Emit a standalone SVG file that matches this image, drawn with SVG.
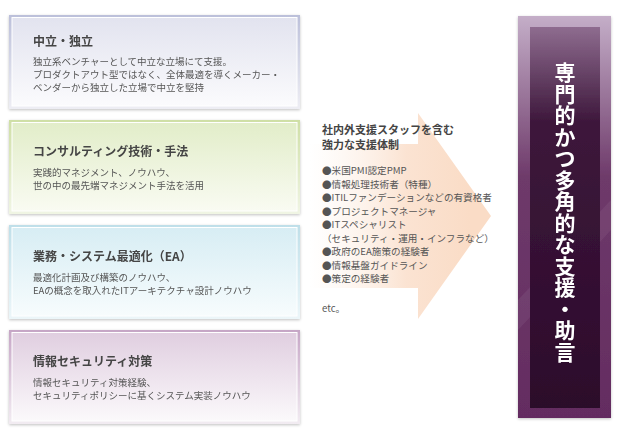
<svg xmlns="http://www.w3.org/2000/svg" width="620" height="434" viewBox="0 0 620 434">
<defs>
<linearGradient id="b1o" x1="0" y1="0" x2="0" y2="1"><stop offset="0" stop-color="#bcc0da"/><stop offset="1" stop-color="#eeeef4"/></linearGradient>
<linearGradient id="b1i" x1="0" y1="0" x2="0" y2="1"><stop offset="0" stop-color="#e2e3ef"/><stop offset="1" stop-color="#fbfbfd"/></linearGradient>
<linearGradient id="b2o" x1="0" y1="0" x2="0" y2="1"><stop offset="0" stop-color="#cfdfa6"/><stop offset="1" stop-color="#f0f5e4"/></linearGradient>
<linearGradient id="b2i" x1="0" y1="0" x2="0" y2="1"><stop offset="0" stop-color="#e2edc9"/><stop offset="1" stop-color="#f9fbf2"/></linearGradient>
<linearGradient id="b3o" x1="0" y1="0" x2="0" y2="1"><stop offset="0" stop-color="#bfdfe9"/><stop offset="1" stop-color="#ecf6f9"/></linearGradient>
<linearGradient id="b3i" x1="0" y1="0" x2="0" y2="1"><stop offset="0" stop-color="#d7edf4"/><stop offset="1" stop-color="#f7fcfd"/></linearGradient>
<linearGradient id="b4o" x1="0" y1="0" x2="0" y2="1"><stop offset="0" stop-color="#c6a6c6"/><stop offset="1" stop-color="#f2ecf2"/></linearGradient>
<linearGradient id="b4i" x1="0" y1="0" x2="0" y2="1"><stop offset="0" stop-color="#e0cee0"/><stop offset="1" stop-color="#fbf9fb"/></linearGradient>
<linearGradient id="arr" x1="310" y1="0" x2="470" y2="0" gradientUnits="userSpaceOnUse"><stop offset="0" stop-color="#fdf0e6" stop-opacity="0"/><stop offset="0.6" stop-color="#fbe3d2"/><stop offset="1" stop-color="#fadcc6"/></linearGradient>
<linearGradient id="po" x1="0" y1="0" x2="0" y2="1"><stop offset="0" stop-color="#c4aec8"/><stop offset="0.4" stop-color="#6e3a6a"/><stop offset="1" stop-color="#642c61"/></linearGradient>
<linearGradient id="pi" x1="0" y1="0" x2="0" y2="1"><stop offset="0" stop-color="#8e6c8f"/><stop offset="0.25" stop-color="#3d173b"/><stop offset="1" stop-color="#2c0a2b"/></linearGradient>
<filter id="sh" x="-10%" y="-10%" width="120%" height="120%"><feGaussianBlur in="SourceAlpha" stdDeviation="1.5"/><feOffset dy="1"/><feComponentTransfer><feFuncA type="linear" slope="0.25"/></feComponentTransfer><feMerge><feMergeNode/><feMergeNode in="SourceGraphic"/></feMerge></filter>
</defs>
<style>
.t{font-family:"Noto Sans CJK JP","Noto Sans",sans-serif;font-size:12px;font-weight:bold;fill:#444}
.b{font-family:"Noto Sans CJK JP","Noto Sans",sans-serif;font-size:9.5px;fill:#555}
.h{font-family:"Noto Sans CJK JP","Noto Sans",sans-serif;font-size:11px;font-weight:bold;fill:#444}
.l{font-family:"Noto Sans CJK JP","Noto Sans",sans-serif;font-size:9.6px;fill:#555}
.v{font-family:"Noto Sans CJK JP","Noto Sans",sans-serif;font-size:21px;font-weight:bold;fill:#fff;text-anchor:middle}
.in{stroke:#fff;stroke-width:1}
</style>
<g id="connectors">
<path id="arrow" d="M310,144 H418 V113 L491,216 L418,319 V288 H310 Z" fill="url(#arr)"/>
</g>
<g id="box1" filter="url(#sh)">
<rect x="9" y="15" width="291" height="94" fill="url(#b1o)"/>
<rect x="12" y="17.5" width="285" height="88.5" fill="url(#b1i)" class="in"/>
<text class="t" x="33" y="46">中立・独立</text>
<text class="b" x="33" y="65">独立系ベンチャーとして中立な立場にて支援。</text>
<text class="b" x="33" y="78">プロダクトアウト型ではなく、全体最適を導くメーカー・</text>
<text class="b" x="33" y="91">ベンダーから独立した立場で中立を堅持</text>
</g>
<g id="box2" filter="url(#sh)">
<rect x="9" y="120" width="291" height="94" fill="url(#b2o)"/>
<rect x="12" y="122.5" width="285" height="88.5" fill="url(#b2i)" class="in"/>
<text class="t" x="33" y="156">コンサルティング技術・手法</text>
<text class="b" x="33" y="176">実践的マネジメント、ノウハウ、</text>
<text class="b" x="33" y="189">世の中の最先端マネジメント手法を活用</text>
</g>
<g id="box3" filter="url(#sh)">
<rect x="9" y="225" width="291" height="94" fill="url(#b3o)"/>
<rect x="12" y="227.5" width="285" height="88.5" fill="url(#b3i)" class="in"/>
<text class="t" x="33" y="261">業務・システム最適化（EA）</text>
<text class="b" x="33" y="281">最適化計画及び構築のノウハウ、</text>
<text class="b" x="33" y="294">EAの概念を取入れたITアーキテクチャ設計ノウハウ</text>
</g>
<g id="box4" filter="url(#sh)">
<rect x="9" y="330" width="291" height="94" fill="url(#b4o)"/>
<rect x="12" y="332.5" width="285" height="88.5" fill="url(#b4i)" class="in"/>
<text class="t" x="33" y="366">情報セキュリティ対策</text>
<text class="b" x="33" y="386">情報セキュリティ対策経験、</text>
<text class="b" x="33" y="399">セキュリティポリシーに基くシステム実装ノウハウ</text>
</g>
<g id="support">
<text class="h" x="322" y="133.5">社内外支援スタッフを含む</text>
<text class="h" x="322" y="149">強力な支援体制</text>
<text class="l" x="322" y="174">●米国PMI認定PMP</text>
<text class="l" x="322" y="187.5">●情報処理技術者（特種）</text>
<text class="l" x="322" y="201">●ITILファンデーションなどの有資格者</text>
<text class="l" x="322" y="214.5">●プロジェクトマネージャ</text>
<text class="l" x="322" y="228">●ITスペシャリスト</text>
<text class="l" x="322" y="241.5">（セキュリティ・運用・インフラなど）</text>
<text class="l" x="322" y="255">●政府のEA施策の経験者</text>
<text class="l" x="322" y="268.5">●情報基盤ガイドライン</text>
<text class="l" x="322" y="282">●策定の経験者</text>
<text class="l" x="322" y="312">etc。</text>
</g>
<g id="result" filter="url(#sh)">
<rect x="518" y="16" width="93" height="402" fill="url(#po)"/>
<path d="M611,200 L611,230 L518,330 L518,300 Z" fill="#fff" opacity="0.06"/>
<rect x="530" y="27" width="70" height="381" fill="url(#pi)"/>
<text class="v" x="565 565 565 565 565 565 565 565 565 565 565 565 565 565" y="80 101.5 123 144.5 166 187.5 209 230.5 252 273.5 295 316.5 338 359.5">専門的かつ多角的な支援・助言</text>
</g>
</svg>
